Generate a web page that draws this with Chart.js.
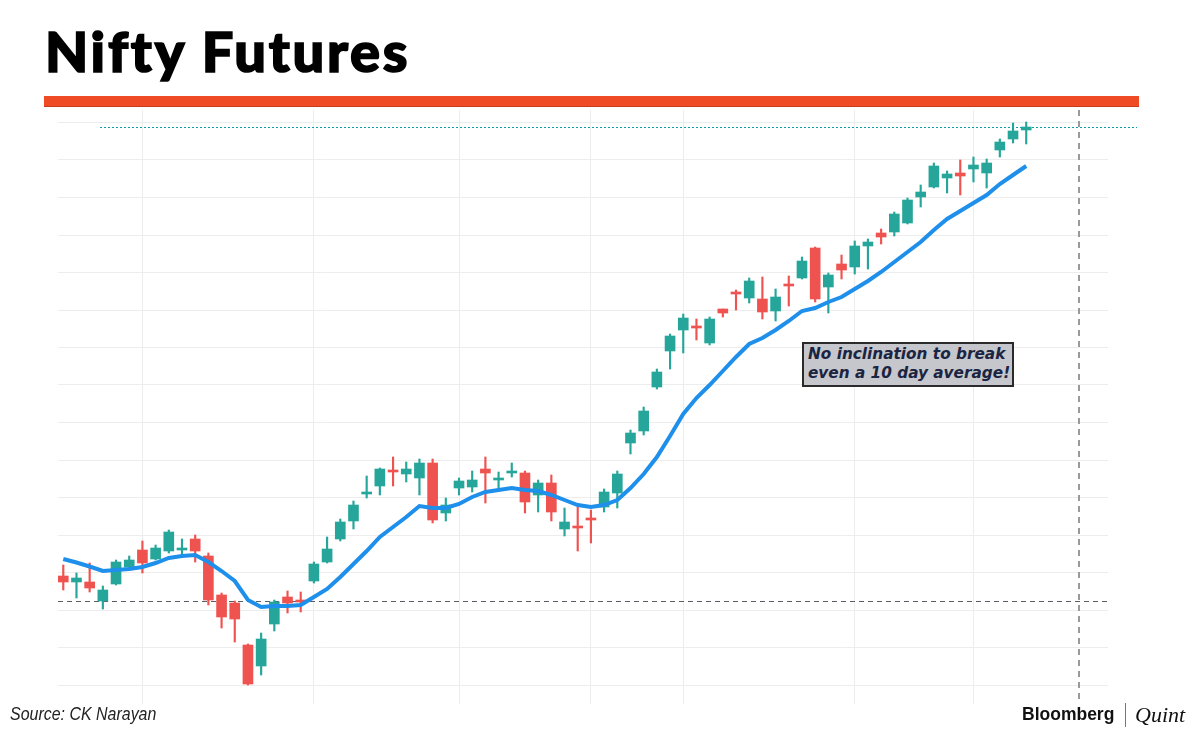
<!DOCTYPE html>
<html>
<head>
<meta charset="utf-8">
<script src="https://cdn.jsdelivr.net/npm/chart.js@4.4.1/dist/chart.umd.min.js"></script>
<style>
    html, body { margin: 0; padding: 0; background: #ffffff; }
    #wrap { position: relative; width: 1200px; height: 730px; overflow: hidden; }
    #chartBox { position: absolute; left: 0; top: 0; width: 1200px; height: 730px; }
    .title { position: absolute; left: 45px; top: 23px; font-family: Lato, "Noto Sans", sans-serif; font-weight: 900; font-size: 56px; line-height: 56px; color: #000; letter-spacing: 2.7px; -webkit-text-stroke: 1.6px #000; }
    .rule { position: absolute; left: 44px; top: 96px; width: 1095px; height: 10px; background: #ef4b24; border-bottom: 1px solid #c93b1b; }
    .source { position: absolute; left: 10px; top: 704px; font-family: "Liberation Sans Narrow", "Liberation Sans", sans-serif; font-style: italic; font-size: 19px; line-height: 19px; color: #222; transform: scaleX(0.84); transform-origin: left top; white-space: nowrap; }
    .brand { position: absolute; left: 1022px; top: 706px; font-family: "Liberation Sans", Arial, sans-serif; font-weight: bold; font-size: 17.5px; line-height: 17.5px; color: #111; }
    .sep { position: absolute; left: 1125px; top: 703px; width: 1px; height: 24px; background: #777; }
    .quint { position: absolute; left: 1135px; top: 704px; font-family: "Liberation Serif", serif; font-style: italic; font-size: 22px; line-height: 22px; color: #111; }
    .note { position: absolute; left: 802px; top: 342px; width: 204px; height: 40px; padding: 1px 0 0 4px; background: #c6c7cd; border: 2px solid #2a2a2a; font-family: "DejaVu Sans", sans-serif; font-weight: bold; font-style: italic; font-size: 15.3px; line-height: 19px; color: #1b2440; white-space: nowrap; }
</style>
</head>
<body>
<div id="wrap">
    <div id="chartBox"><canvas id="chartNifty"></canvas></div>
    <div class="title">Nifty Futures</div>
    <div class="rule"></div>
    <div class="note">No inclination to break<br>even a 10 day average!</div>
    <div class="source">Source: CK Narayan</div>
    <div class="brand">Bloomberg</div>
    <div class="sep"></div>
    <div class="quint">Quint</div>
</div>
<script>
// Daily candles
const candleOpen = [11836, 11812, 11812, 11736, 11804, 11872, 11940, 11904, 11936, 11940,
    11984, 11916, 11760, 11728, 11560, 11476, 11644, 11752, 11740, 11816,
    11892, 11984, 12056, 12164, 12196, 12260, 12244, 12228, 12288, 12088,
    12188, 12192, 12264, 12220, 12248, 12248, 12160, 12208, 12024, 12036,
    12064, 12112, 12168, 12368, 12416, 12592, 12736, 12820, 12832, 12768,
    12904, 12972, 12948, 12944, 12896, 13004, 13028, 13148, 12992, 13084,
    13072, 13156, 13208, 13212, 13248, 13352, 13392, 13428, 13448, 13464,
    13448, 13540, 13584, 13620];
const candleHigh = [11880, 11848, 11888, 11796, 11900, 11916, 11976, 11960, 12020, 11984,
    12000, 11928, 11768, 11736, 11564, 11608, 11740, 11776, 11772, 11892,
    11992, 12064, 12136, 12236, 12268, 12312, 12292, 12304, 12304, 12148,
    12228, 12256, 12312, 12252, 12288, 12256, 12220, 12240, 12108, 12112,
    12100, 12184, 12256, 12420, 12512, 12664, 12804, 12884, 12864, 12872,
    12904, 12980, 13028, 13032, 12984, 13036, 13112, 13152, 13048, 13120,
    13176, 13184, 13224, 13292, 13348, 13400, 13488, 13456, 13500, 13512,
    13504, 13584, 13648, 13652];
const candleLow = [11780, 11748, 11772, 11704, 11800, 11868, 11848, 11900, 11928, 11916,
    11892, 11720, 11628, 11572, 11400, 11440, 11616, 11688, 11692, 11808,
    11888, 11976, 12024, 12148, 12160, 12196, 12212, 12160, 12048, 12056,
    12160, 12172, 12128, 12184, 12232, 12088, 12092, 12056, 11996, 11936,
    11968, 12092, 12108, 12324, 12400, 12584, 12664, 12728, 12780, 12760,
    12872, 12900, 12928, 12864, 12856, 12916, 13024, 12932, 12888, 13024,
    13044, 13064, 13164, 13196, 13244, 13312, 13388, 13368, 13360, 13412,
    13388, 13512, 13568, 13564];
const candleClose = [11812, 11828, 11788, 11780, 11892, 11900, 11888, 11948, 12012, 11944,
    11936, 11740, 11672, 11664, 11404, 11584, 11732, 11728, 11732, 11884,
    11944, 12052, 12120, 12172, 12264, 12252, 12264, 12288, 12060, 12120,
    12216, 12220, 12248, 12224, 12252, 12132, 12208, 12092, 12052, 12028,
    12060, 12172, 12244, 12408, 12496, 12652, 12796, 12868, 12828, 12864,
    12888, 12964, 13016, 12892, 12952, 12996, 13096, 12944, 13040, 13060,
    13156, 13172, 13192, 13284, 13340, 13372, 13476, 13444, 13436, 13480,
    13488, 13572, 13616, 13632];

// 10 day moving average
const ma10 = [11904, 11890, 11874, 11856, 11860, 11864, 11872, 11888, 11908, 11916,
    11920, 11892, 11856, 11816, 11740, 11712, 11716, 11716, 11720, 11752,
    11784, 11832, 11884, 11936, 11992, 12032, 12072, 12116, 12108, 12108,
    12124, 12152, 12172, 12180, 12188, 12180, 12176, 12160, 12140, 12120,
    12112, 12120, 12140, 12188, 12244, 12312, 12396, 12484, 12548, 12600,
    12656, 12712, 12764, 12788, 12820, 12856, 12896, 12908, 12932, 12952,
    12984, 13016, 13052, 13092, 13132, 13172, 13220, 13264, 13296, 13328,
    13360, 13404, 13440, 13476];

// Grid positions (bar index for vertical lines, price for horizontal lines)
const xGridIdx = [6, 19, 30, 40, 47, 60, 69];
const yGridLevels = [11400, 11550, 11700, 11850, 12000, 12150, 12300, 12450,
    12600, 12750, 12900, 13050, 13200, 13350, 13500, 13650];
const supportLevel = 11736;
const cursorIdx = 77;

const upColor = '#26a69a';
const downColor = '#ef5350';

const candleColors = candleOpen.map((o, i) => candleClose[i] >= o ? upColor : downColor);
const bodies = candleOpen.map((o, i) => ({ x: i, y: [o, candleClose[i]] }));
const wicks = candleLow.map((l, i) => ({ x: i, y: [l, candleHigh[i]] }));
const maPoints = ma10.map((v, i) => ({ x: i, y: v }));

// Dashed support line, last price line and cursor line
const refLinesPlugin = {
    id: 'refLines',
    beforeDatasetsDraw(chart) {
        const { ctx, chartArea, scales } = chart;
        ctx.save();

        const ySup = Math.round(scales.y.getPixelForValue(supportLevel)) + 0.5;
        ctx.strokeStyle = '#5a5f66';
        ctx.lineWidth = 1;
        ctx.setLineDash([5, 4]);
        ctx.beginPath();
        ctx.moveTo(chartArea.left, ySup);
        ctx.lineTo(chartArea.right, ySup);
        ctx.stroke();

        const yLast = Math.round(scales.y.getPixelForValue(candleClose[candleClose.length - 1])) + 0.5;
        ctx.strokeStyle = '#0a9ea6';
        ctx.lineWidth = 1;
        ctx.setLineDash([2, 2]);
        ctx.beginPath();
        ctx.moveTo(chartArea.left + 42, yLast);
        ctx.lineTo(chartArea.right + 29, yLast);
        ctx.stroke();

        const xCur = Math.round(scales.x.getPixelForValue(cursorIdx));
        ctx.strokeStyle = '#9a9a9a';
        ctx.lineWidth = 2;
        ctx.setLineDash([6, 5]);
        ctx.beginPath();
        ctx.moveTo(xCur, chartArea.top);
        ctx.lineTo(xCur, chartArea.bottom);
        ctx.stroke();

        ctx.restore();
    }
};

const gridColor = '#ededed';

new Chart(document.getElementById('chartNifty'), {
    type: 'bar',
    data: {
        datasets: [
            {
                type: 'line',
                data: maPoints,
                borderColor: '#1e8fea',
                borderWidth: 4,
                pointRadius: 0,
                tension: 0,
                order: 1
            },
            {
                data: bodies,
                backgroundColor: candleColors,
                barThickness: 10,
                minBarLength: 2,
                grouped: false,
                order: 2
            },
            {
                data: wicks,
                backgroundColor: candleColors,
                barThickness: 1.5,
                grouped: false,
                order: 3
            }
        ]
    },
    options: {
        responsive: true,
        maintainAspectRatio: false,
        animation: false,
        layout: {
            padding: { left: 58, right: 92, top: 110, bottom: 26 }
        },
        plugins: {
            legend: { display: false },
            tooltip: { enabled: false }
        },
        scales: {
            x: {
                type: 'linear',
                min: -0.4,
                max: 79.2,
                offset: false,
                ticks: { display: false },
                border: { display: false },
                grid: { color: gridColor, drawTicks: false, offset: false },
                afterBuildTicks: scale => {
                    scale.ticks = xGridIdx.map(v => ({ value: v }));
                }
            },
            y: {
                min: 11324,
                max: 13700,
                ticks: { display: false },
                border: { display: false },
                grid: { color: gridColor, drawTicks: false },
                afterBuildTicks: scale => {
                    scale.ticks = yGridLevels.map(v => ({ value: v }));
                }
            }
        }
    },
    plugins: [refLinesPlugin]
});
</script>
</body>
</html>
